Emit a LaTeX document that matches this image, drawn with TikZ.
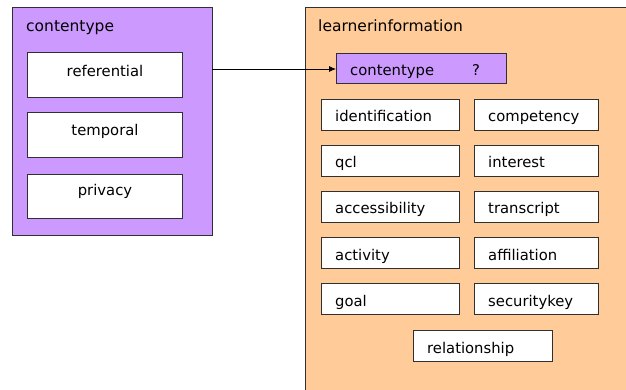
\documentclass[tikz,border=0pt]{standalone}
\usepackage{fontspec}
\setmainfont{DejaVu Sans}
\usetikzlibrary{arrows.meta}
\definecolor{lilac}{HTML}{CC99FF}
\definecolor{peach}{HTML}{FFCC99}
\definecolor{edge}{HTML}{303030}
\tikzset{
  pane/.style={draw=edge, line width=0.9pt},
  field/.style={draw=edge, line width=0.9pt, fill=white},
  lbl/.style={font=\fontsize{14.8}{16}\selectfont, inner sep=0pt, anchor=base west},
  mid/.style={font=\fontsize{14.8}{16}\selectfont, inner sep=0pt, anchor=base},
  ttl/.style={font=\fontsize{15.5}{17}\selectfont, anchor=base west, inner sep=0pt},
}
\begin{document}
\begin{tikzpicture}[x=1pt,y=-1pt]
\useasboundingbox (0,0) rectangle (626,390);
\fill[white] (0,0) rectangle (626,390);
\begin{scope}
\clip (0,0) rectangle (626,390);
% outer panes
\draw[pane, fill=lilac] (12,7) rectangle (212,235);
\draw[pane, fill=peach] (305,7) rectangle (640,400);
\end{scope}
\node[ttl] (t1) at (26,32) {contentype};
\node[ttl] (t2) at (318,32) {learnerinformation};

% members of contentype
\draw[field] (27,52) rectangle (182,97);
\node[mid] (ref) at (105,77) {referential};
\draw[field] (27,112) rectangle (182,157);
\node[mid] (tmp) at (105,136) {temporal};
\draw[field] (27,174) rectangle (182,218);
\node[mid] (prv) at (105,196) {privacy};
\coordinate (src) at (212,69);

% reference slot
\draw[field, fill=lilac] (336,53) rectangle (506,83);
\node[coordinate] (slot) at (336,69) {};
\node[lbl] (ct) at (350,76) {contentype};
\node[lbl] (q) at (472,76) {?};
\draw[-{Latex[length=7pt,width=6pt]}, line width=0.8pt] (src) -- (slot);

% learnerinformation members
\foreach \y/\a/\b [count=\i] in {99/identification/competency,
                                 145/qcl/interest,
                                 191/accessibility/transcript,
                                 237/activity/affiliation,
                                 283/goal/securitykey}{
  \draw[field] (321,\y) rectangle (459,\y+31);
  \node[lbl] (l\i) at (335,\y+23) {\a};
  \draw[field] (474,\y) rectangle (598,\y+31);
  \node[lbl] (r\i) at (488,\y+23) {\b};
}
\draw[field] (413,330) rectangle (552,361);
\node[lbl] (rel) at (427,353) {relationship};
\end{tikzpicture}
\end{document}
